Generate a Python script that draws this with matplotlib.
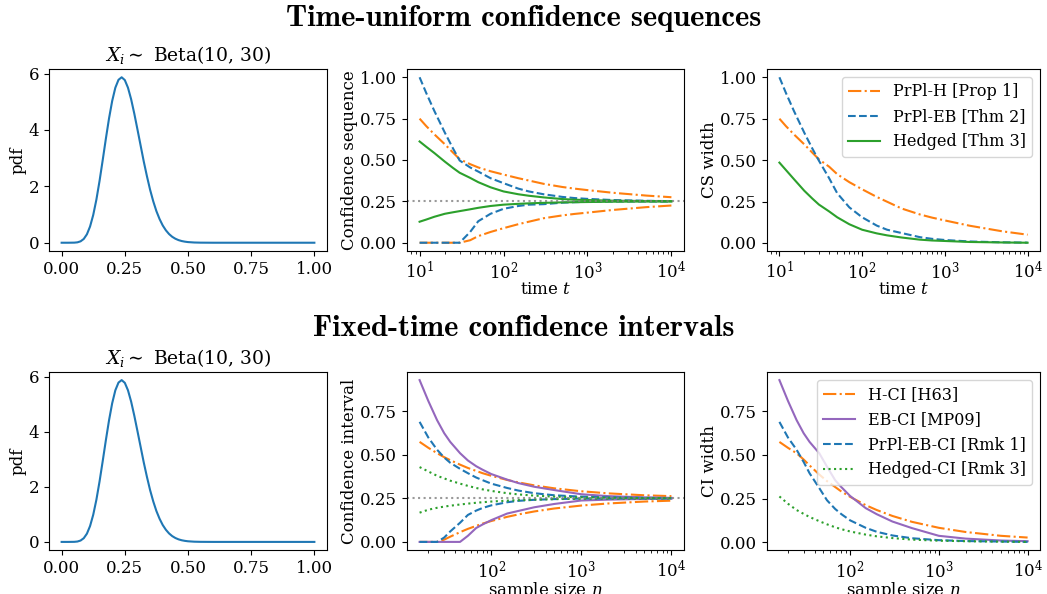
import matplotlib
matplotlib.use("Agg")
import matplotlib.pyplot as plt
import numpy as np
from matplotlib.ticker import MultipleLocator

plt.rcParams['font.family'] = 'serif'
plt.rcParams['font.serif'] = ['DejaVu Serif']
plt.rcParams['mathtext.fontset'] = 'dejavuserif'
plt.rcParams['font.size'] = 12
plt.rcParams['legend.fontsize'] = 11.5
plt.rcParams['axes.labelpad'] = 1.5

# Beta(10, 30) density
pdf_x = [0.0, 0.025, 0.05, 0.0625, 0.075, 0.0875, 0.1, 0.1125, 0.125, 0.1375, 0.15, 0.1625,
         0.175, 0.1875, 0.2, 0.2125, 0.225, 0.2375, 0.25, 0.2625, 0.275, 0.2875, 0.3, 0.3125,
         0.325, 0.3375, 0.35, 0.3625, 0.375, 0.3875, 0.4, 0.4125, 0.425, 0.4375, 0.45, 0.4625,
         0.475, 0.4875, 0.5, 0.525, 0.55, 0.6, 0.7, 0.8, 0.9, 1.0]
pdf_y = [0.0, 0.0, 0.003, 0.014, 0.05, 0.134, 0.299, 0.576, 0.985, 1.529, 2.192, 2.93,
         3.69, 4.41, 5.03, 5.50, 5.78, 5.87, 5.77, 5.50, 5.09, 4.58, 4.02, 3.45,
         2.88, 2.36, 1.88, 1.47, 1.12, 0.84, 0.613, 0.44, 0.308, 0.211, 0.142, 0.093,
         0.06, 0.038, 0.023, 0.008, 0.0026, 0.0, 0.0, 0.0, 0.0, 0.0]
true_mean = 0.25

# time-uniform confidence sequences
t = [10, 12, 15, 20, 25, 30, 40, 50, 70, 100, 150, 200, 300, 500, 700, 1000, 2000, 5000, 10000]
h_upper = [0.75, 0.705, 0.655, 0.595, 0.545, 0.505, 0.475, 0.455, 0.432, 0.412, 0.39, 0.376,
           0.356, 0.337, 0.327, 0.318, 0.302, 0.285, 0.275]
h_lower = [0.0, 0.0, 0.0, 0.0, 0.0, 0.0, 0.015, 0.04, 0.065, 0.088, 0.112, 0.127, 0.148,
           0.165, 0.174, 0.182, 0.198, 0.215, 0.225]
eb_upper = [1.0, 0.905, 0.796, 0.665, 0.57, 0.497, 0.455, 0.43, 0.39, 0.36, 0.327, 0.31,
            0.293, 0.277, 0.27, 0.265, 0.258, 0.2535, 0.251]
eb_lower = [0.0, 0.0, 0.0, 0.0, 0.0, 0.0, 0.065, 0.13, 0.175, 0.205, 0.222, 0.23, 0.233,
            0.242, 0.245, 0.247, 0.249, 0.2495, 0.249]
hedged_upper = [0.612, 0.58, 0.542, 0.49, 0.452, 0.423, 0.392, 0.366, 0.335, 0.31, 0.293, 0.284,
                0.274, 0.264, 0.26, 0.258, 0.254, 0.252, 0.251]
hedged_lower = [0.127, 0.14, 0.157, 0.175, 0.184, 0.191, 0.202, 0.211, 0.222, 0.23, 0.235, 0.238,
                0.241, 0.244, 0.245, 0.246, 0.248, 0.249, 0.2495]

# fixed-time confidence intervals
n = [16, 20, 25, 30, 35, 45, 55, 68, 80, 100, 150, 200, 300, 500, 1000, 2000, 5000, 10000]
hci_upper = [0.575, 0.541, 0.51, 0.487, 0.47, 0.444, 0.425, 0.408, 0.395, 0.38, 0.356, 0.342,
             0.325, 0.308, 0.291, 0.279, 0.268, 0.263]
hci_lower = [0.0, 0.0, 0.0, 0.013, 0.03, 0.056, 0.075, 0.092, 0.105, 0.12, 0.144, 0.158,
             0.175, 0.192, 0.209, 0.221, 0.232, 0.237]
ebci_upper = [0.93, 0.81, 0.70, 0.625, 0.575, 0.51, 0.468, 0.435, 0.415, 0.39, 0.358, 0.338,
              0.317, 0.298, 0.274, 0.263, 0.256, 0.253]
ebci_lower = [0.0, 0.0, 0.0, 0.0, 0.0, 0.0, 0.035, 0.08, 0.1, 0.125, 0.163, 0.178,
              0.199, 0.218, 0.238, 0.243, 0.247, 0.248]
prpl_upper = [0.69, 0.60, 0.53, 0.485, 0.455, 0.42, 0.395, 0.37, 0.355, 0.335, 0.31, 0.295,
              0.28, 0.268, 0.26, 0.256, 0.253, 0.2515]
prpl_lower = [0.0, 0.0, 0.0, 0.025, 0.06, 0.11, 0.155, 0.18, 0.195, 0.21, 0.228, 0.236,
              0.242, 0.246, 0.249, 0.25, 0.25, 0.2505]
hedgedci_upper = [0.43, 0.405, 0.38, 0.365, 0.352, 0.335, 0.322, 0.31, 0.302, 0.293, 0.28, 0.273,
                  0.266, 0.26, 0.256, 0.254, 0.252, 0.251]
hedgedci_lower = [0.168, 0.185, 0.196, 0.203, 0.208, 0.215, 0.22, 0.225, 0.228, 0.232, 0.237, 0.24,
                  0.243, 0.246, 0.248, 0.249, 0.2495, 0.25]


def pdf_panel(ax):
    ax.plot(pdf_x, pdf_y, color='C0')
    ax.set_title(r'$X_i \sim$ Beta(10, 30)', fontsize=13.5)
    ax.set_ylabel('pdf')
    ax.xaxis.set_major_locator(MultipleLocator(0.25))
    ax.yaxis.set_major_locator(MultipleLocator(2))


def bounds(ax, x, lo, hi, **kw):
    ax.plot(x, hi, **kw)
    ax.plot(x, lo, **kw)


def width(lo, hi):
    return np.array(hi) - np.array(lo)


fig = plt.figure(figsize=(10.47, 5.94), dpi=100)
W, H = 1047, 594


def add_ax(left, right, top, bottom):
    return fig.add_axes([left / W, 1 - bottom / H, (right - left) / W, (bottom - top) / H])


cols = [(49, 327), (407, 684), (767, 1040)]
top_axes = [add_ax(l, r, 69, 251) for l, r in cols]
bot_axes = [add_ax(l, r, 372, 550) for l, r in cols]

# --- top row
pdf_panel(top_axes[0])

ax = top_axes[1]
bounds(ax, t, h_lower, h_upper, color='C1', ls='-.')
bounds(ax, t, eb_lower, eb_upper, color='C0', ls='--')
bounds(ax, t, hedged_lower, hedged_upper, color='C2', ls='-')
ax.axhline(true_mean, color='grey', ls=':', alpha=0.8)
ax.set_xscale('log')
ax.set_xlabel('time $t$', labelpad=-1.5)
ax.set_ylabel('Confidence sequence')
ax.yaxis.set_major_locator(MultipleLocator(0.25))

ax = top_axes[2]
ax.plot(t, width(h_lower, h_upper), color='C1', ls='-.', label='PrPl-H [Prop 1]')
ax.plot(t, width(eb_lower, eb_upper), color='C0', ls='--', label='PrPl-EB [Thm 2]')
ax.plot(t, width(hedged_lower, hedged_upper), color='C2', ls='-', label='Hedged [Thm 3]')
ax.set_xscale('log')
ax.set_xlabel('time $t$', labelpad=-1.5)
ax.set_ylabel('CS width')
ax.yaxis.set_major_locator(MultipleLocator(0.25))
ax.legend(loc='upper right')

# --- bottom row
pdf_panel(bot_axes[0])

ax = bot_axes[1]
bounds(ax, n, hci_lower, hci_upper, color='C1', ls='-.')
bounds(ax, n, ebci_lower, ebci_upper, color='C4', ls='-')
bounds(ax, n, prpl_lower, prpl_upper, color='C0', ls='--')
bounds(ax, n, hedgedci_lower, hedgedci_upper, color='C2', ls=':')
ax.axhline(true_mean, color='grey', ls=':', alpha=0.8)
ax.set_xscale('log')
ax.set_xlabel('sample size $n$', labelpad=-1.5)
ax.set_ylabel('Confidence interval')
ax.yaxis.set_major_locator(MultipleLocator(0.25))

ax = bot_axes[2]
ax.plot(n, width(hci_lower, hci_upper), color='C1', ls='-.', label='H-CI [H63]')
ax.plot(n, width(ebci_lower, ebci_upper), color='C4', ls='-', label='EB-CI [MP09]')
ax.plot(n, width(prpl_lower, prpl_upper), color='C0', ls='--', label='PrPl-EB-CI [Rmk 1]')
ax.plot(n, width(hedgedci_lower, hedgedci_upper), color='C2', ls=':', label='Hedged-CI [Rmk 3]')
ax.set_xscale('log')
ax.set_xlabel('sample size $n$', labelpad=-1.5)
ax.set_ylabel('CI width')
ax.yaxis.set_major_locator(MultipleLocator(0.25))
ax.legend(loc='upper right')

fig.text(0.5, 1 - 19 / H, 'Time-uniform confidence sequences', ha='center', va='center',
         fontsize=22, family=['cmb10', 'DejaVu Serif'])
fig.text(0.5, 1 - 329 / H, 'Fixed-time confidence intervals', ha='center', va='center',
         fontsize=22, family=['cmb10', 'DejaVu Serif'])

fig.savefig('out.png', dpi=100)
